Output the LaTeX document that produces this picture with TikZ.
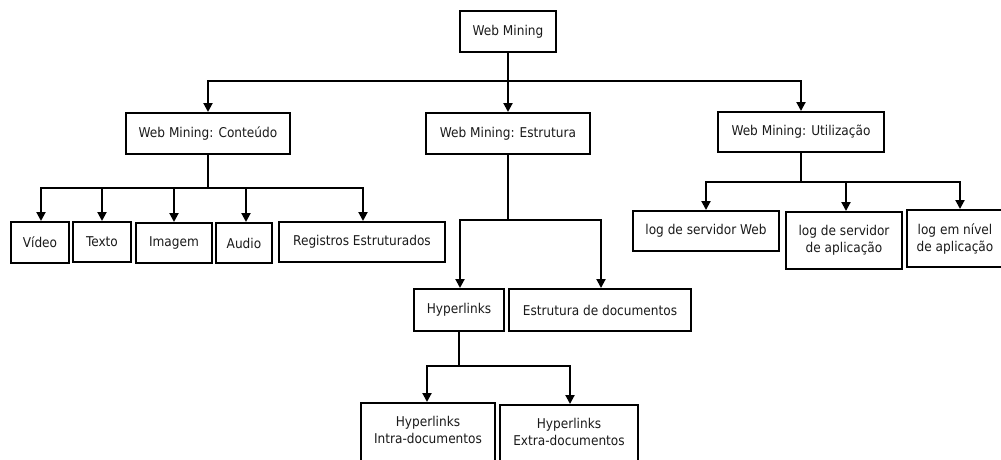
\documentclass[tikz,border=0pt]{standalone}
\usepackage{fontspec}
\setmainfont{DejaVu Sans Condensed}
\usetikzlibrary{arrows.meta}
\definecolor{ink}{HTML}{1A1A1A}
\begin{document}
\begin{tikzpicture}[x=1pt,y=-1pt,
  txt/.style={inner sep=0pt, align=center, text=ink, font=\fontsize{13.5}{17}\selectfont},
  box/.style={txt, draw=black, line width=2pt},
  conn/.style={line width=2pt, draw=black},
  arr/.style={conn, -{Triangle[width=9pt,length=9pt]}}]
\useasboundingbox (0,0) rectangle (1001,459);
\clip (0,0) rectangle (1001,459);

% root and the three branches
\node[box, minimum width=96pt, minimum height=41pt] (top) at (508,31.5) {Web Mining};
\node[box, minimum width=164pt, minimum height=41pt] (cont) at (208,133.5) {Web Mining: Conteúdo};
\node[box, minimum width=164pt, minimum height=41pt] (estr) at (508,133.5) {Web Mining: Estrutura};
\node[box, minimum width=166pt, minimum height=40pt] (util) at (801,132) {Web Mining: Utilização};

% content types
\node[box, minimum width=58pt, minimum height=41pt] (video) at (40,242.5) {Vídeo};
\node[box, minimum width=58pt, minimum height=40pt] (texto) at (102,242) {Texto};
\node[box, minimum width=76pt, minimum height=40pt] (imagem) at (174,243) {Imagem};
\node[box, minimum width=56pt, minimum height=40pt] (audio) at (244,243) {Audio};
\node[box, minimum width=166pt, minimum height=40pt] (reg) at (362,242) {Registros Estruturados};

% structure
\node[box, minimum width=90pt, minimum height=42pt] (hyp) at (459,310) {Hyperlinks};
\node[box, minimum width=182pt, minimum height=42pt] (estdoc) at (600,310) {Estrutura de documentos};
\node[box, minimum width=134pt, minimum height=70pt, anchor=north] (intra) at (428,402) {};
\node[txt] (intratxt) at (428,430) {Hyperlinks\\Intra-documentos};
\node[box, minimum width=138pt, minimum height=70pt, anchor=north] (extra) at (569,404) {};
\node[txt] (extratxt) at (569,431.5) {Hyperlinks\\Extra-documentos};

% usage logs
\node[box, minimum width=146pt, minimum height=40pt] (lsw) at (706,231) {log de servidor Web};
\node[box, minimum width=116pt, minimum height=57pt] (lsa) at (844,240.5) {log de servidor\\de aplicação};
\node[box, minimum width=96pt, minimum height=57pt] (lnv) at (955,238.5) {log em nível\\de aplicação};

% junction points of the tree connectors
\coordinate (j0) at (508,81);
\coordinate (j1) at (208,188);
\coordinate (j2) at (508,220);
\coordinate (j3) at (459,366);
\coordinate (j4) at (801,182);

% connectors
\draw[arr] (top.south) -- (j0) -| (cont.north);
\draw[arr] (top.south) -- (j0) -| (util.north);
\draw[arr] (top.south) -- (j0) -- (estr.north);

\draw[arr] (cont.south) -- (j1) -| ([xshift=1pt]video.north);
\draw[arr] (cont.south) -- (j1) -| (texto.north);
\draw[arr] (cont.south) -- (j1) -| (imagem.north);
\draw[arr] (cont.south) -- (j1) -| ([xshift=2pt]audio.north);
\draw[arr] (cont.south) -- (j1) -| ([xshift=1pt]reg.north);

\draw[arr] (estr.south) -- (j2) -| ([xshift=1pt]hyp.north);
\draw[arr] (estr.south) -- (j2) -| ([xshift=1pt]estdoc.north);

\draw[arr] (hyp.south) -- (j3) -| ([xshift=-1pt]intra.north);
\draw[arr] (hyp.south) -- (j3) -| ([xshift=1pt]extra.north);

\draw[arr] (util.south) -- (j4) -| (lsw.north);
\draw[arr] (util.south) -- (j4) -| ([xshift=2pt]lsa.north);
\draw[arr] (util.south) -- (j4) -| ([xshift=5pt]lnv.north);
\end{tikzpicture}
\end{document}
